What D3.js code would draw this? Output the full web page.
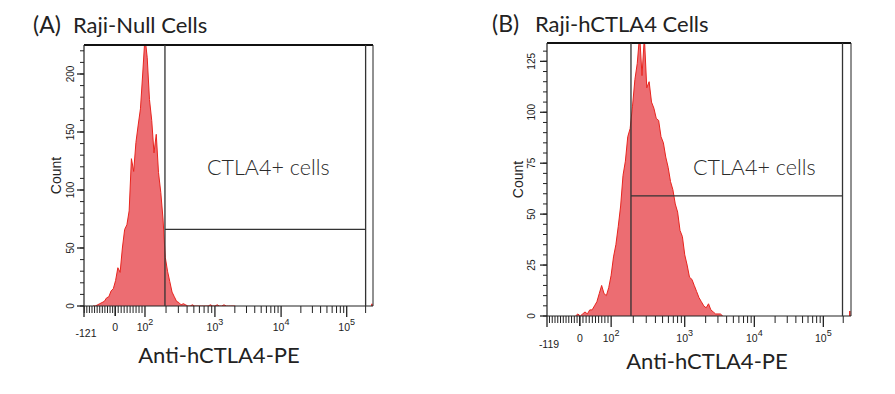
<!DOCTYPE html>
<html>
<head>
<meta charset="utf-8">
<script src="https://cdn.jsdelivr.net/npm/d3@7"></script>
<style>
  body { margin: 0; background: #fff; }
  svg { display: block; }
</style>
</head>
<body>
<svg id="chart_svg"></svg>
<script>
// ---- data ----
const panelLetters = ["(A)", "(B)"];
const panelTitles = ["Raji-Null Cells", "Raji-hCTLA4 Cells"];
const xAxisLabel = "Anti-hCTLA4-PE";
const yAxisLabel = "Count";
const gateLabel = "CTLA4+ cells";

const xMinValues = [-121, -119];          // left end of the logicle axis
const xMaxValue = 262144;
const decadeTicks = [100, 1000, 10000, 100000];
const yMaxValues = [225, 134];
const yMajorTicksA = [0, 50, 100, 150, 200];
const yMajorTicksB = [0, 25, 50, 75, 100, 125];
const yMinorSteps = [10, 5];

const gateLow = [193, 186];
const gateHigh = [200000, 195000];
const gateLevel = [66, 59];

// histograms: counts per display channel (128 channels across the axis)
const channelCount = 128;
const startChannelA = 5;
const countsA = [0, 1, 2, 3, 4, 7, 8, 13, 15, 22, 33, 29, 50, 66, 70, 82, 127, 116, 141, 156,
  170, 200, 232, 214, 178, 160, 132, 148, 115, 98, 75, 42, 30, 21, 12, 8, 4, 3, 1, 2,
  1, 0, 0, 1, 0, 0, 0, 0, 0, 0, 0, 1, 0, 0, 1, 0, 0, 1, 0, 0, 0, 0, 0];
const startChannelB = 13;
const countsB = [1, 0, 1, 2, 1, 3, 3, 5, 7, 11, 15, 11, 10, 14, 20, 29, 35, 44, 54, 69,
  76, 88, 92, 103, 116, 124, 138, 118, 137, 112, 115, 105, 102, 97, 96, 88, 85, 78, 73, 66,
  62, 55, 51, 42, 39, 30, 25, 19, 18, 15, 12, 9, 7, 5, 4, 6, 3, 2, 1, 1, 1, 0];
const overflowCounts = [1, 2];   // events piled in the last channel

const width = 895, height = 394;
const svg = d3.select("#chart_svg").attr("width", width).attr("height", height);

const panels = [
  { left: 84, right: 373, top: 45, bottom: 306, start: startChannelA, counts: countsA, yTicks: yMajorTicksA,
    lettersX: 33, titleX: 73, titleY: 33, gateTextX: 207, gateTextY: 175, xLabelX: 219, xLabelY: 363, countX: 61,
    tickLabelDy: 25, yLabelDx: 10 },
  { left: 547, right: 851, top: 43, bottom: 316, start: startChannelB, counts: countsB, yTicks: yMajorTicksB,
    lettersX: 492, titleX: 535, titleY: 32, gateTextX: 693, gateTextY: 175, xLabelX: 707, xLabelY: 369, countX: 523,
    tickLabelDy: 26, yLabelDx: 12 }
];

const tickFont = "'Liberation Sans Narrow', 'Liberation Sans', Arial, sans-serif";
const textFont = "Lato, 'Open Sans', sans-serif";

panels.forEach((p, i) => drawPanel(p, i));

function drawPanel(p, i) {
  const g = svg.append("g");
  const xMin = xMinValues[i];

  // logicle-like axis: linear near zero, log above 100
  const frac = [0, 0.108, 0.211, 0.453, 0.682, 0.909, 1];
  const px = frac.map(f => p.left + f * (p.right - p.left));
  const xLin = d3.scaleLinear().domain([xMin, 0, 100]).range(px.slice(0, 3));
  const xDec = d3.scaleLinear().domain([2, 3, 4, 5, Math.log10(xMaxValue)]).range(px.slice(2));
  const x = v => v < 100 ? xLin(v) : xDec(Math.log10(v));

  const xCh = d3.scaleLinear().domain([0, channelCount]).range([p.left, p.right]);
  const y = d3.scaleLinear().domain([0, yMaxValues[i]]).range([p.bottom, p.top]);

  // histogram
  const pts = p.counts.map((n, k) => ({ c: p.start + k, n }));
  pts.unshift({ c: p.start - 1, n: 0 });
  const clipId = "clip" + i;
  g.append("clipPath").attr("id", clipId)
    .append("rect").attr("x", p.left).attr("y", p.top)
    .attr("width", p.right - p.left).attr("height", p.bottom - p.top);

  const area = d3.area().x(d => xCh(d.c)).y0(p.bottom).y1(d => y(d.n));
  const line = d3.line().x(d => xCh(d.c)).y(d => y(d.n));
  const hist = g.append("g").attr("clip-path", `url(#${clipId})`);
  hist.append("path").datum(pts).attr("d", area).attr("fill", "#ec6d72");
  hist.append("path").datum(pts).attr("d", line)
    .attr("fill", "none").attr("stroke", "#e8241e").attr("stroke-width", 1);
  const last = channelCount - 0.5;
  hist.append("line")
    .attr("x1", xCh(last)).attr("x2", xCh(last))
    .attr("y1", y(0)).attr("y2", y(overflowCounts[i]) - 1)
    .attr("stroke", "#e8241e").attr("stroke-width", 1.5);

  // frame
  const ink = "#222";
  g.append("line").attr("x1", p.left).attr("x2", p.right).attr("y1", p.top).attr("y2", p.top)
    .attr("stroke", "#111").attr("stroke-width", 2.2);
  g.append("line").attr("x1", p.right).attr("x2", p.right).attr("y1", p.top).attr("y2", p.bottom)
    .attr("stroke", ink).attr("stroke-width", 1);
  g.append("line").attr("x1", p.left).attr("x2", p.left).attr("y1", p.top).attr("y2", p.bottom)
    .attr("stroke", ink).attr("stroke-width", 1.2);
  g.append("line").attr("x1", p.left).attr("x2", p.right).attr("y1", p.bottom).attr("y2", p.bottom)
    .attr("stroke", ink).attr("stroke-width", 1.2);

  // gate
  const gx1 = x(gateLow[i]), gx2 = x(gateHigh[i]), gy = y(gateLevel[i]);
  g.append("path")
    .attr("d", `M${gx1},${p.top}V${p.bottom}M${gx2},${p.top}V${p.bottom}M${gx1},${gy}H${gx2}`)
    .attr("fill", "none").attr("stroke", "#333").attr("stroke-width", 1.3);

  // y ticks
  const yMinor = d3.range(0, yMaxValues[i], yMinorSteps[i]);
  g.selectAll(".ymin").data(yMinor).enter().append("line")
    .attr("x1", p.left - 4).attr("x2", p.left)
    .attr("y1", d => y(d)).attr("y2", d => y(d))
    .attr("stroke", ink).attr("stroke-width", 1);
  g.selectAll(".ymaj").data(p.yTicks).enter().append("line")
    .attr("x1", p.left - 7).attr("x2", p.left)
    .attr("y1", d => y(d)).attr("y2", d => y(d))
    .attr("stroke", ink).attr("stroke-width", 1.3);
  g.selectAll(".ylab").data(p.yTicks).enter().append("text")
    .attr("transform", d => `translate(${p.left - p.yLabelDx},${y(d)}) rotate(-90)`)
    .attr("text-anchor", "middle")
    .attr("font-family", tickFont).attr("font-size", 10).attr("fill", "#222")
    .text(d => d);

  // x ticks
  const linTicks = d3.range(Math.ceil(xMin / 10) * 10, 100, 10);
  const logMinor = [];
  decadeTicks.forEach(dec => d3.range(2, 10).forEach(m => { if (dec * m < xMaxValue) logMinor.push(dec * m); }));
  g.selectAll(".xlin").data(linTicks).enter().append("line")
    .attr("x1", d => x(d)).attr("x2", d => x(d))
    .attr("y1", p.bottom).attr("y2", d => p.bottom + (d === 0 ? 10 : 7))
    .attr("stroke", ink).attr("stroke-width", d => d === 0 ? 1.6 : 1);
  g.selectAll(".xlog").data(logMinor).enter().append("line")
    .attr("x1", d => x(d)).attr("x2", d => x(d))
    .attr("y1", p.bottom).attr("y2", p.bottom + 7)
    .attr("stroke", ink).attr("stroke-width", 1);
  g.selectAll(".xmaj").data([xMin].concat(decadeTicks)).enter().append("line")
    .attr("x1", d => x(d)).attr("x2", d => x(d))
    .attr("y1", p.bottom).attr("y2", p.bottom + 11)
    .attr("stroke", ink).attr("stroke-width", 1.3);

  const labY = p.bottom + p.tickLabelDy;
  g.append("text").attr("x", x(xMin) + 2).attr("y", labY + 6)
    .attr("text-anchor", "middle").attr("font-family", tickFont).attr("font-size", 10.5)
    .attr("fill", "#222").text(xMin);
  g.append("text").attr("x", x(0)).attr("y", labY)
    .attr("text-anchor", "middle").attr("font-family", tickFont).attr("font-size", 10.5)
    .attr("fill", "#222").text("0");
  const decLab = g.selectAll(".xdec").data(decadeTicks).enter().append("text")
    .attr("x", d => x(d)).attr("y", labY)
    .attr("text-anchor", "middle").attr("font-family", tickFont).attr("font-size", 10.5)
    .attr("fill", "#222");
  decLab.append("tspan").text("10");
  decLab.append("tspan").attr("dy", -6).attr("font-size", 9).text(d => Math.round(Math.log10(d)));

  // texts
  g.append("text").attr("x", p.lettersX).attr("y", p.titleY)
    .attr("font-family", textFont).attr("font-size", 23).attr("fill", "#222")
    .text(panelLetters[i]);
  g.append("text").attr("x", p.titleX).attr("y", p.titleY)
    .attr("font-family", textFont).attr("font-size", 22).attr("fill", "#222")
    .text(panelTitles[i]);
  g.append("text").attr("x", p.gateTextX).attr("y", p.gateTextY)
    .attr("font-family", textFont).attr("font-weight", 300).attr("font-size", 21.5).attr("fill", "#2a2a2a")
    .text(gateLabel);
  g.append("text").attr("x", p.xLabelX).attr("y", p.xLabelY)
    .attr("text-anchor", "middle")
    .attr("font-family", textFont).attr("font-size", 22).attr("fill", "#222")
    .text(xAxisLabel);
  g.append("text")
    .attr("transform", `translate(${p.countX},${(p.top + p.bottom) / 2 + 0}) rotate(-90)`)
    .attr("text-anchor", "middle")
    .attr("font-family", "'Liberation Sans', Arial, sans-serif").attr("font-size", 14).attr("fill", "#222")
    .text(yAxisLabel);
}
</script>
</body>
</html>
